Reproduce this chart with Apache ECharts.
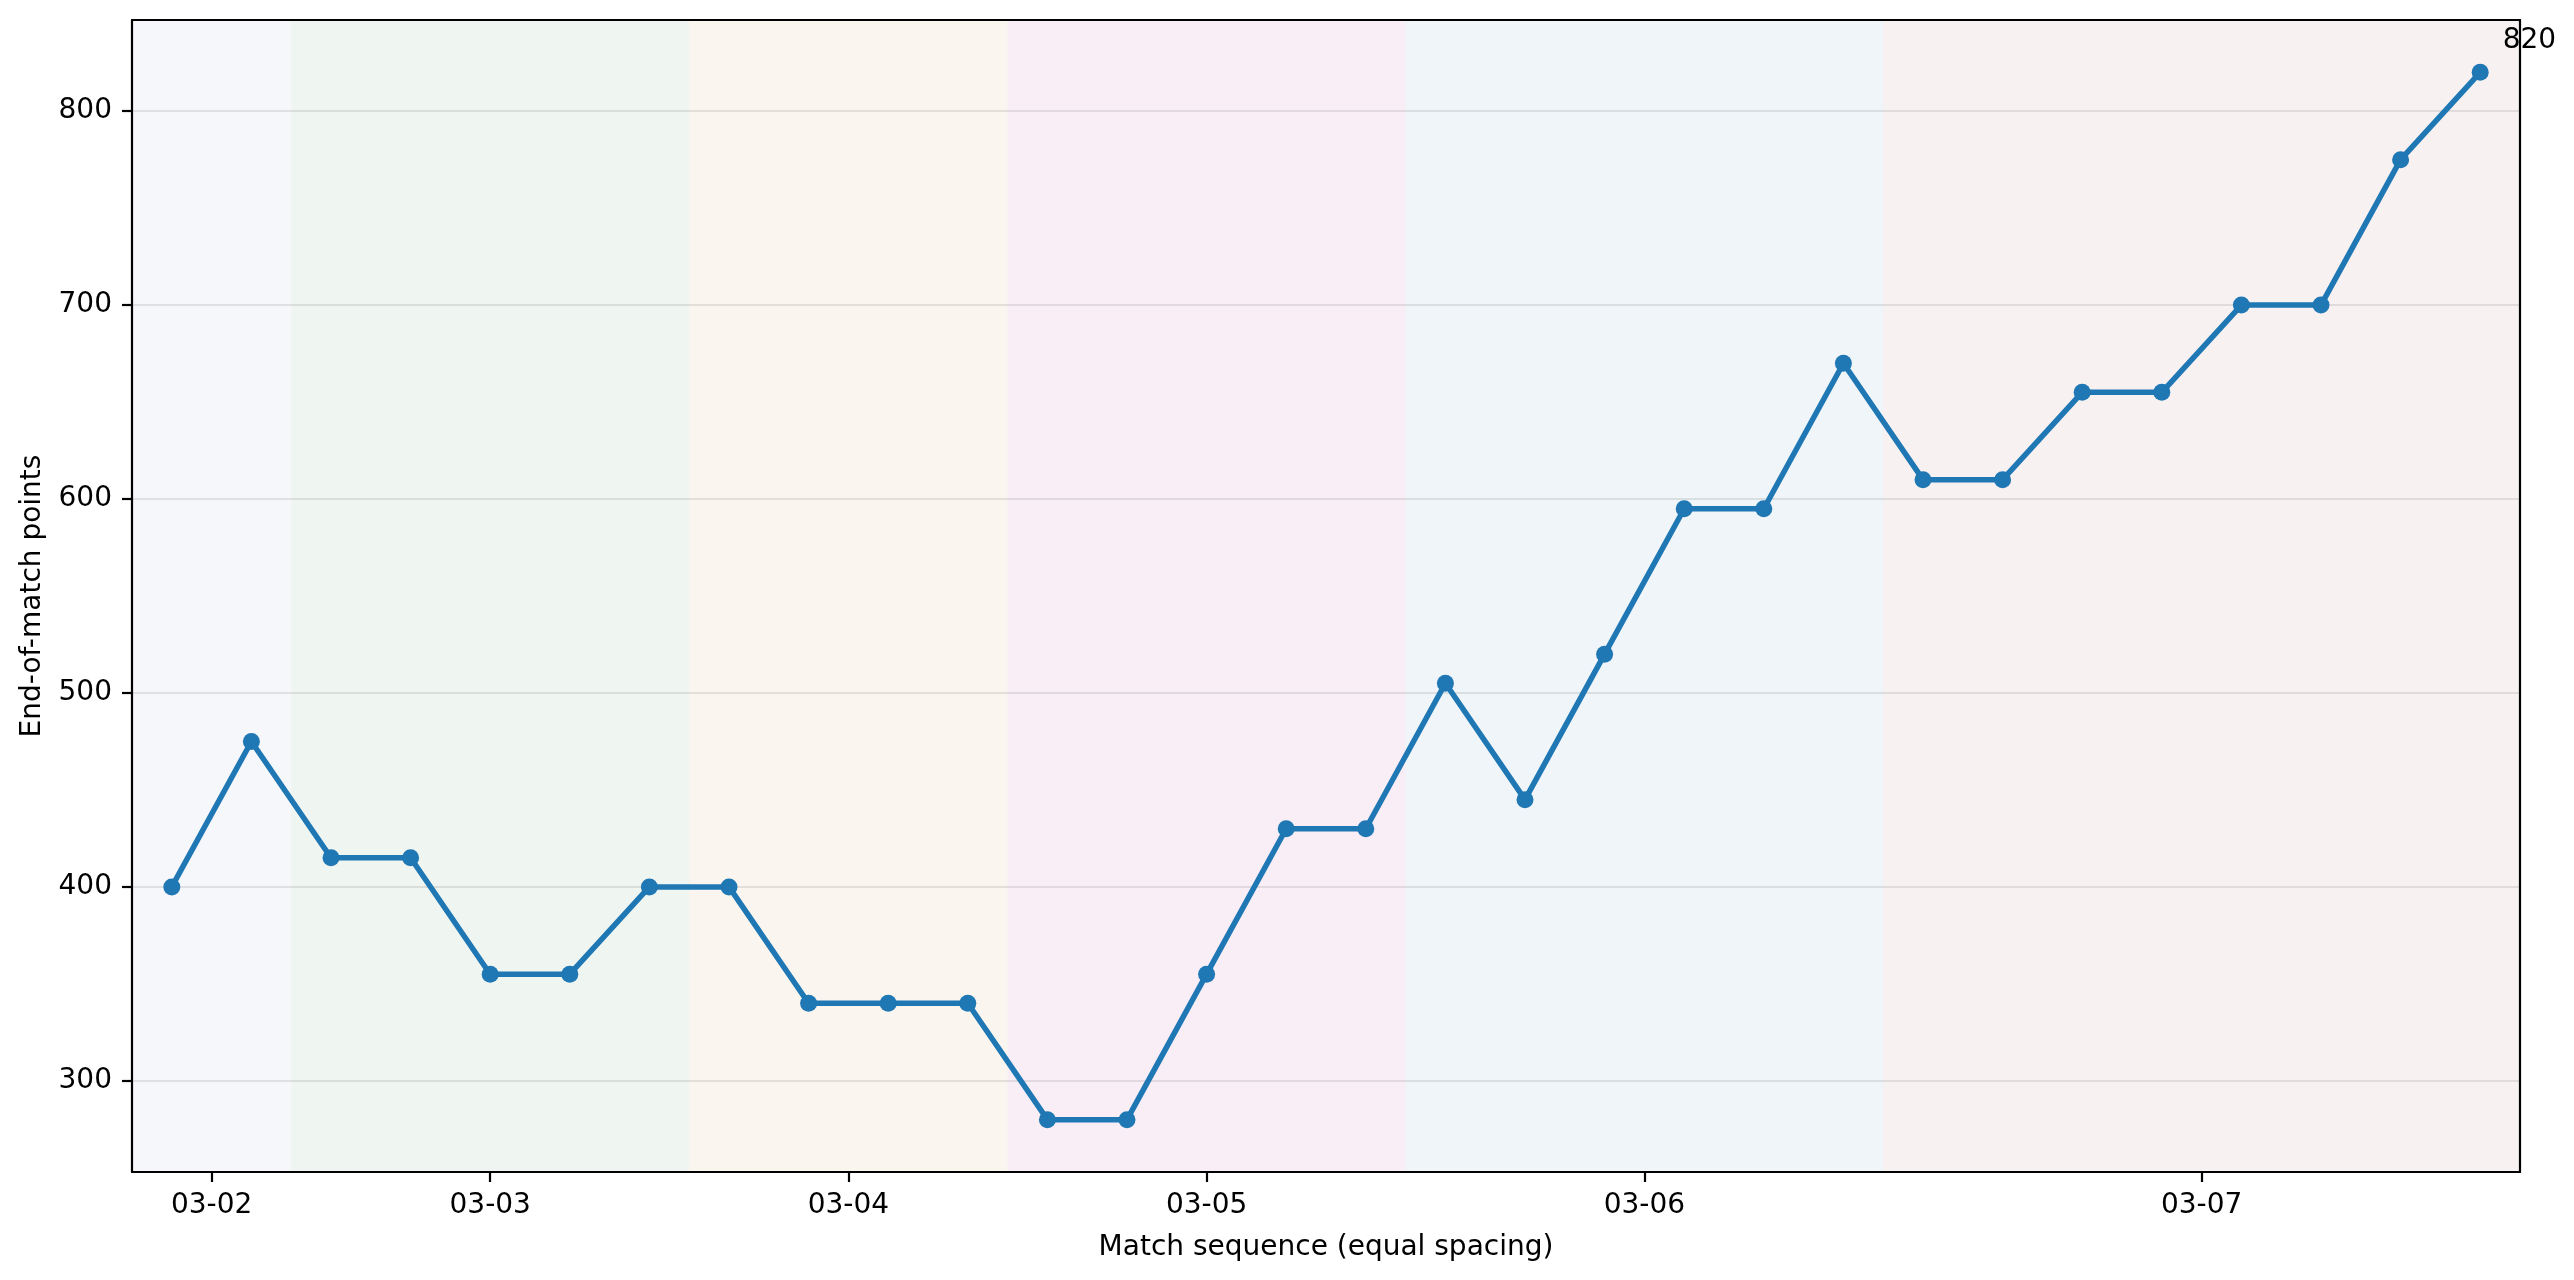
<!DOCTYPE html>
<html><head><meta charset="utf-8">
<script src="https://cdn.jsdelivr.net/npm/echarts@6/dist/echarts.min.js"></script>
<style>html,body{margin:0;padding:0;background:#fff}#c{width:2574px;height:1280px}</style>
</head><body><div id="c"></div>
<script>
const dateLabels = ['03-02','03-03','03-04','03-05','03-06','03-07'];
const matchesPerDate = [2, 5, 4, 5, 6, 8];
const points = [400,475,415,415,355,355,400,400,340,340,340,280,280,355,430,430,505,445,520,595,595,670,610,610,655,655,700,700,775,820];
const yTicks = [300, 400, 500, 600, 700, 800];
const bandColors = ['rgba(215,223,239,0.25)','rgba(191,215,199,0.25)','rgba(235,215,187,0.25)','rgba(231,187,219,0.25)','rgba(191,215,227,0.25)','rgba(223,199,203,0.25)'];

const starts = [];
let acc = 0;
matchesPerDate.forEach(c => { starts.push(acc); acc += c; });
const tickPos = starts.map((s, i) => s + (matchesPerDate[i] - 1) / 2);
const bands = starts.map((s, i) => [
  { xAxis: s - 0.5, itemStyle: { color: bandColors[i] } },
  { xAxis: s + matchesPerDate[i] - 0.5 }
]);
const lastIdx = points.length - 1;
const seriesData = points.map((v, i) => i === lastIdx
  ? { value: [i, v], label: { show: true, position: 'right', offset: [9, -32], formatter: String(v), color: '#000', fontSize: 28, fontFamily: 'DejaVu Sans' } }
  : [i, v]);

const font = 'DejaVu Sans';
const chart = echarts.init(document.getElementById('c'), null, { renderer: 'canvas' });
chart.setOption({
  animation: false,
  backgroundColor: '#ffffff',
  grid: { left: 132, right: 54, top: 20, bottom: 108 },
  xAxis: [{
    type: 'value', min: -0.5, max: 29.5,
    name: 'Match sequence (equal spacing)', nameLocation: 'middle', nameGap: 62,
    nameTextStyle: { fontSize: 28, fontFamily: font, color: '#000' },
    axisLine: { show: true, onZero: false, lineStyle: { color: '#000', width: 2.2 } },
    axisTick: { show: true, length: 10, lineStyle: { color: '#000', width: 2.2 }, customValues: tickPos },
    axisLabel: { fontSize: 28, fontFamily: font, color: '#000', margin: 20, customValues: tickPos,
      formatter: v => { const k = tickPos.indexOf(v); return k >= 0 ? dateLabels[k] : ''; } },
    splitLine: { show: false }, z: 5
  }, {
    type: 'value', position: 'top', min: -0.5, max: 29.5,
    axisLine: { show: true, onZero: false, lineStyle: { color: '#000', width: 2.2 } },
    axisTick: { show: false }, axisLabel: { show: false }, splitLine: { show: false }, z: 5
  }],
  yAxis: [{
    type: 'value', min: 253, max: 847,
    name: 'End-of-match points', nameLocation: 'middle', nameGap: 85,
    nameTextStyle: { fontSize: 28, fontFamily: font, color: '#000' },
    axisLine: { show: true, onZero: false, lineStyle: { color: '#000', width: 2.2 } },
    axisTick: { show: true, length: 10, lineStyle: { color: '#000', width: 2.2 }, customValues: yTicks },
    axisLabel: { fontSize: 28, fontFamily: font, color: '#000', margin: 20, customValues: yTicks },
    splitLine: { show: true, lineStyle: { color: 'rgba(0,0,0,0.09)', width: 2 } }, z: 5
  }, {
    type: 'value', position: 'right', min: 253, max: 847,
    axisLine: { show: true, onZero: false, lineStyle: { color: '#000', width: 2.2 } },
    axisTick: { show: false }, axisLabel: { show: false }, splitLine: { show: false }, z: 5
  }],
  series: [{
    type: 'line', data: [], z: 1, silent: true,
    markArea: { silent: true, data: bands }
  }, {
    type: 'line', data: seriesData, z: 6,
    symbol: 'circle', symbolSize: 17, showAllSymbol: true,
    lineStyle: { color: '#1f77b4', width: 5.5 },
    itemStyle: { color: '#1f77b4' }
  }]
});
</script></body></html>
